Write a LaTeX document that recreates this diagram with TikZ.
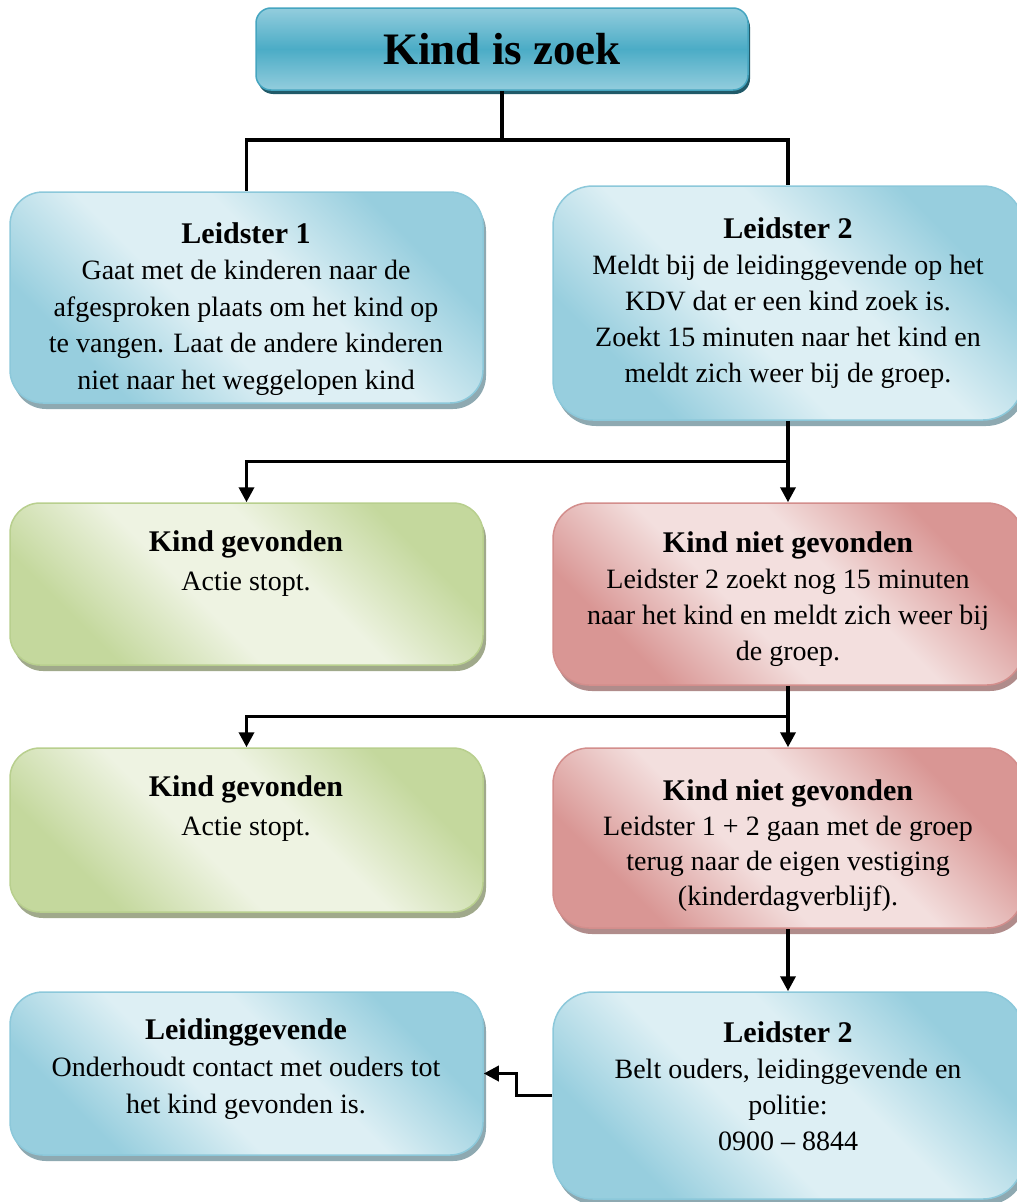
\documentclass[tikz,border=0pt]{standalone}
\usepackage{fontspec}
\setmainfont{Liberation Serif}
\usetikzlibrary{arrows.meta,shadows,calc}
\definecolor{bDark}{HTML}{97CEDE}
\definecolor{bLight}{HTML}{DDEFF4}
\definecolor{bBorder}{HTML}{8CC8DA}
\definecolor{bShadow}{HTML}{8EA9B1}
\definecolor{gDark}{HTML}{C4D89D}
\definecolor{gLight}{HTML}{EEF3E2}
\definecolor{gBorder}{HTML}{B8CF8E}
\definecolor{gShadow}{HTML}{A0A98B}
\definecolor{rDark}{HTML}{D99694}
\definecolor{rLight}{HTML}{F3DFDE}
\definecolor{rBorder}{HTML}{D38E8C}
\definecolor{rShadow}{HTML}{B08C8B}
\definecolor{tLight}{HTML}{93CDDD}
\definecolor{tMid}{HTML}{4BACC6}
\definecolor{tBorder}{HTML}{45A5C0}
\definecolor{tShadow}{HTML}{215A69}
\pgfdeclareverticalshading{blueshade}{100bp}{color(0bp)=(bDark); color(27bp)=(bDark); color(43bp)=(bLight); color(57bp)=(bLight); color(73bp)=(bDark); color(100bp)=(bDark)}
\pgfdeclareverticalshading{greenshade}{100bp}{color(0bp)=(gDark); color(27bp)=(gDark); color(43bp)=(gLight); color(57bp)=(gLight); color(73bp)=(gDark); color(100bp)=(gDark)}
\pgfdeclareverticalshading{redshade}{100bp}{color(0bp)=(rDark); color(27bp)=(rDark); color(43bp)=(rLight); color(57bp)=(rLight); color(73bp)=(rDark); color(100bp)=(rDark)}
\newcommand\hd[1]{{\bfseries\fontsize{30}{36}\selectfont #1}}
\begin{document}
\begin{tikzpicture}[x=1pt,y=-1pt,
  boxbase/.style={inner sep=0pt, line width=1.5pt, rounded corners=#1},
  bluebox/.style={boxbase=#1, draw=bBorder, shade, shading=blueshade, shading angle=-45,
     general shadow={fill=bShadow, shadow xshift=3pt, shadow yshift=-6pt}},
  greenbox/.style={boxbase=#1, draw=gBorder, shade, shading=greenshade, shading angle=-45,
     general shadow={fill=gShadow, shadow xshift=3pt, shadow yshift=-6pt}},
  redbox/.style={boxbase=#1, draw=rBorder, shade, shading=redshade, shading angle=-45,
     general shadow={fill=rShadow, shadow xshift=3pt, shadow yshift=-6pt}},
  titlebox/.style={inner sep=0pt, line width=1.5pt, rounded corners=15pt, draw=tBorder,
     top color=tLight, bottom color=tLight, middle color=tMid,
     general shadow={fill=tShadow, shadow xshift=2pt, shadow yshift=-4pt}},
  txt/.style={align=center, inner sep=0pt, anchor=base, font=\fontsize{28}{#1}\selectfont},
  con/.style={line width=3.5pt},
  arr/.style={line width=3.5pt, -{Triangle[length=15pt,width=15pt]}}
]
\clip (0,0) rectangle (1017,1202);
\useasboundingbox (0,0) rectangle (1017,1202);

% boxes
\node[titlebox, minimum width=492pt, minimum height=82pt] (title) at (502,49) {};
\node[bluebox=33pt, minimum width=473pt, minimum height=211pt] (l1) at (246.5,297.5) {};
\node[bluebox=40pt, minimum width=470pt, minimum height=234pt] (l2) at (788,303) {};
\node[greenbox=30pt, minimum width=473pt, minimum height=162pt] (g1) at (246.5,584) {};
\node[redbox=36pt, minimum width=470pt, minimum height=182pt] (n1) at (788,594) {};
\node[greenbox=30pt, minimum width=473pt, minimum height=164pt] (g2) at (246.5,830) {};
\node[redbox=36pt, minimum width=470pt, minimum height=180pt] (n2) at (788,838) {};
\node[bluebox=33pt, minimum width=473pt, minimum height=163pt] (lg) at (246.5,1073.5) {};
\node[bluebox=40pt, minimum width=470pt, minimum height=207pt] (l2b) at (788,1095.5) {};

% texts (anchor = baseline of last line)
\node[anchor=base, inner sep=0pt, font=\bfseries\fontsize{45}{50}\selectfont] (tt) at (502,64) {Kind is zoek};
\node[txt=36.5] (tl1) at (246,389) {\hd{Leidster 1}\\Gaat met de kinderen naar de\\afgesproken plaats om het kind op\\te vangen. Laat de andere kinderen\\niet naar het weggelopen kind};
\node[txt=36] (tl2) at (788,382) {\hd{Leidster 2}\\Meldt bij de leidinggevende op het\\KDV dat er een kind zoek is.\\Zoekt 15 minuten naar het kind en\\meldt zich weer bij de groep.};
\node[txt=39] (tg1) at (246,590) {\hd{Kind gevonden}\\Actie stopt.};
\node[txt=36] (tn1) at (788,660) {\hd{Kind niet gevonden}\\Leidster 2 zoekt nog 15 minuten\\naar het kind en meldt zich weer bij\\de groep.};
\node[txt=39] (tg2) at (246,835) {\hd{Kind gevonden}\\Actie stopt.};
\node[txt=35] (tn2) at (788,905) {\hd{Kind niet gevonden}\\Leidster 1 + 2 gaan met de groep\\terug naar de eigen vestiging\\(kinderdagverblijf).};
\node[txt=37] (tlg) at (246,1113) {\hd{Leidinggevende}\\Onderhoudt contact met ouders tot\\het kind gevonden is.};
\node[txt=36] (tl2b) at (788,1150) {\hd{Leidster 2}\\Belt ouders, leidinggevende en\\politie:\\0900 – 8844};

% connectors
\draw[con] (title.south) -- ++(0,49) coordinate (j1) -| (l1.north);
\draw[con] (j1) -| (l2.north);
\draw[arr] (l2.south) -- (n1.north);
\draw[arr] ($(l2.south)!0.5!(n1.north)$) -| (g1.north);
\draw[arr] (n1.south) -- (n2.north);
\draw[arr] ($(n1.south)!0.5!(n2.north)$) -| (g2.north);
\draw[arr] (n2.south) -- (l2b.north);
\draw[arr] (l2b.west) -- ++(-36,0) |- (lg.east);
\end{tikzpicture}
\end{document}
